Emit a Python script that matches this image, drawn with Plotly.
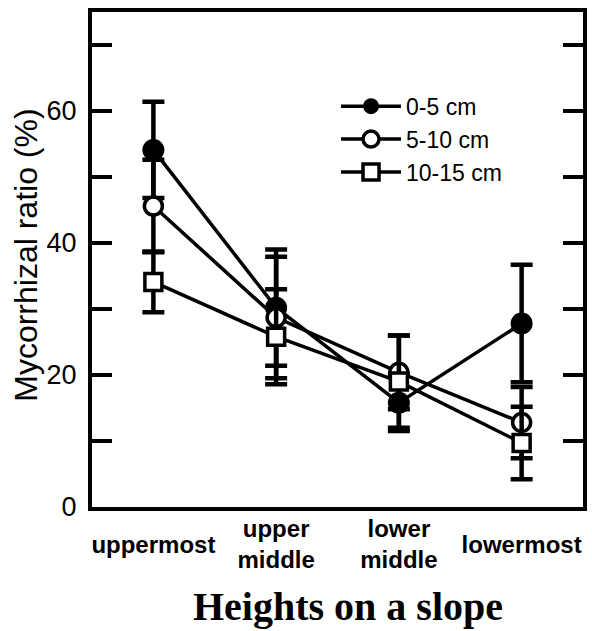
import plotly.graph_objects as go

# ---- data ----
categories = ["uppermost", "upper<br>middle", "lower<br>middle", "lowermost"]
series_names = ["0-5 cm", "5-10 cm", "10-15 cm"]
ratio_0_5 = [54.1, 30.2, 15.8, 27.8]
err_0_5 = [7.3, 8.8, 4.3, 8.9]
ratio_5_10 = [45.6, 28.7, 20.4, 12.8]
err_5_10 = [7.0, 9.2, 5.6, 5.4]
ratio_10_15 = [34.1, 25.8, 19.0, 9.7]
err_10_15 = [4.6, 7.2, 7.0, 5.5]
y_tick_vals = [0, 20, 40, 60]

x_pos = list(range(len(categories)))

SANS = "Liberation Sans, Arial, Helvetica, sans-serif"
SERIF = "Liberation Serif, Times New Roman, serif"

styles = [
    dict(symbol="circle", size=22, color="black", lw=0),
    dict(symbol="circle", size=18, color="white", lw=3.5),
    dict(symbol="square", size=17, color="white", lw=3.5),
]
values = [ratio_0_5, ratio_5_10, ratio_10_15]
errors = [err_0_5, err_5_10, err_10_15]

fig = go.Figure()
for name, vals, errs, st in zip(series_names, values, errors, styles):
    fig.add_trace(go.Scatter(
        x=x_pos, y=vals, name=name, mode="lines+markers",
        line=dict(color="black", width=3.5),
        marker=dict(symbol=st["symbol"], size=st["size"], color=st["color"],
                    line=dict(color="black", width=st["lw"])),
        error_y=dict(type="data", array=errs, visible=True, color="black",
                     thickness=4.5, width=11),
        cliponaxis=False,
    ))

single = [i for i, c in enumerate(categories) if "<br>" not in c]
multi = [i for i, c in enumerate(categories) if "<br>" in c]

# empty helper trace so the second (label-only) x axis is rendered
fig.add_trace(go.Scatter(x=x_pos, y=[None] * len(x_pos), xaxis="x2",
                         showlegend=False, hoverinfo="skip", mode="markers"))

fig.update_layout(
    width=592, height=631,
    margin=dict(l=92, r=5, t=12, b=124),
    paper_bgcolor="white", plot_bgcolor="white",
    font=dict(family=SANS, color="black", size=24),
    showlegend=True,
    legend=dict(
        x=0.497, y=0.853, xanchor="left", yanchor="top",
        bgcolor="rgba(0,0,0,0)", borderwidth=0,
        font=dict(family=SANS, size=23, color="black"),
        itemwidth=60, tracegroupgap=0,
    ),
    xaxis=dict(
        range=[-0.5, len(categories) - 0.5],
        tickvals=single, ticktext=[f"<b>{categories[i]}</b>" for i in single],
        ticks="", showgrid=False, zeroline=False,
        showline=True, linewidth=4, linecolor="black", mirror=True,
        tickfont=dict(family=SANS, size=24, color="black"),
        ticklabelstandoff=13,
    ),
    xaxis2=dict(
        overlaying="x", anchor="y", side="bottom", matches="x",
        range=[-0.5, len(categories) - 0.5],
        tickvals=multi, ticktext=[f"<b>{categories[i]}</b>" for i in multi],
        ticks="", showgrid=False, zeroline=False, showline=False,
        tickfont=dict(family=SANS, size=24, color="black"),
        ticklabelstandoff=5,
    ),
    yaxis=dict(
        range=[0, 75], tickvals=y_tick_vals,
        ticks="inside", ticklen=20, tickwidth=4, tickcolor="black",
        minor=dict(dtick=10, tick0=0, ticks="inside", ticklen=11, tickwidth=4,
                   tickcolor="black", showgrid=False),
        showgrid=False, zeroline=False,
        showline=True, linewidth=4, linecolor="black", mirror="allticks",
        tickfont=dict(family=SANS, size=27, color="black"),
        ticklabelstandoff=6,
    ),
    annotations=[
        dict(text="Mycorrhizal ratio (%)", textangle=-90, showarrow=False,
             xref="paper", yref="paper", x=-0.135, y=0.509,
             xanchor="center", yanchor="middle",
             font=dict(family=SANS, size=32, color="black")),
        dict(text="<b>Heights on a slope</b>", showarrow=False,
             xref="paper", yref="paper", x=0.521, y=-0.202,
             xanchor="center", yanchor="middle",
             font=dict(family=SERIF, size=40, color="black")),
    ],
)

fig.write_html("out.html", config={"displayModeBar": False},
               post_script="document.body.style.margin='0';")
